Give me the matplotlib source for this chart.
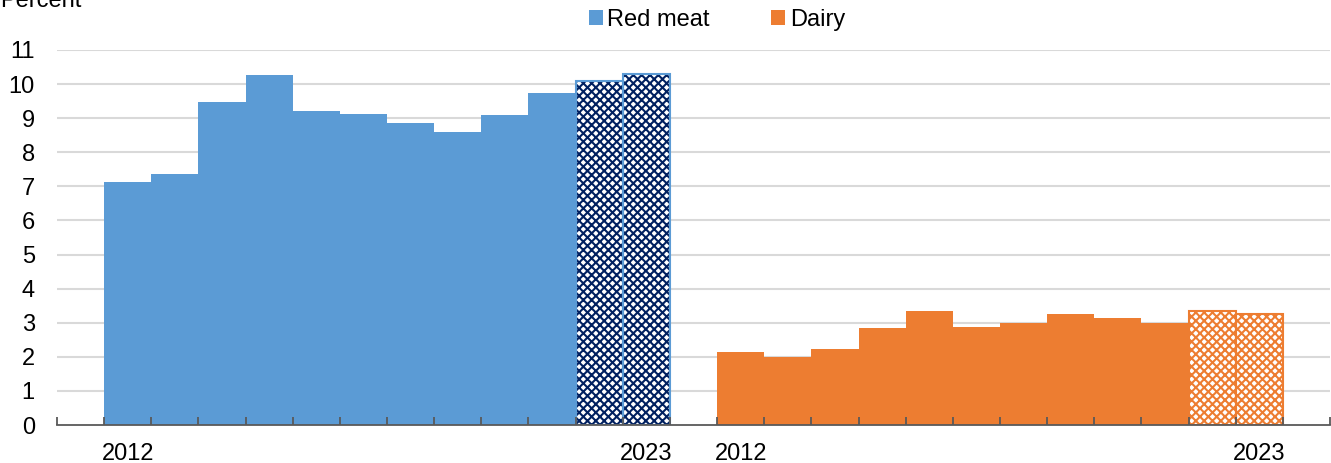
import matplotlib.pyplot as plt

plt.rcParams['font.family'] = ['Liberation Sans', 'DejaVu Sans']

# Anos e valores (percentual)
anos = list(range(2012, 2024))
carne_vermelha = [7.12, 7.37, 9.46, 10.27, 9.21, 9.11, 8.87, 8.60, 9.08, 9.73, 10.09, 10.29]
laticinios = [2.13, 1.99, 2.24, 2.86, 3.33, 2.87, 3.00, 3.25, 3.14, 2.98, 3.34, 3.25]
n_previsao = 2  # últimos anos são previsão (hachurados)

azul = '#5B9BD5'
azul_escuro = '#002060'
laranja = '#ED7D31'
fs = 17

fig = plt.figure(figsize=(13.31, 4.63), dpi=100)
ax = fig.add_axes([57 / 1331, 1 - 425 / 463, 1273 / 1331, 375 / 463])

n = len(anos)
x_carne = [1 + i for i in range(n)]
x_lat = [n + 2 + i for i in range(n)]


def desenha(xs, vals, cor, cor_hatch, rotulo):
    real = n - n_previsao
    ax.bar(xs[:real], vals[:real], width=1.0, color=cor, linewidth=0, label=rotulo, zorder=1)
    ax.bar(xs[real:], vals[real:], width=1.0, facecolor='white', edgecolor=cor_hatch,
           hatch='xxxx', linewidth=0, zorder=1)
    ax.bar(xs[real:], vals[real:], width=1.0, facecolor='none', edgecolor=cor,
           linewidth=1.5, zorder=1.5)


plt.rcParams['hatch.linewidth'] = 1.5
desenha(x_carne, carne_vermelha, azul, azul_escuro, 'Red meat')
desenha(x_lat, laticinios, laranja, laranja, 'Dairy')

total = 2 * n + 3
ax.set_xlim(-0.5, total - 0.5)
ax.set_ylim(0, 11)
ax.set_yticks(range(0, 12))
for v in range(1, 12):
    ax.axhline(v, color='#D9D9D9', linewidth=1.5, zorder=0)

ax.set_xticks([i - 0.5 for i in range(total + 1)])
ax.set_xticklabels([])
ax.set_xticks([x_carne[0], x_carne[-1], x_lat[0], x_lat[-1]],
              [str(anos[0]), str(anos[-1]), str(anos[0]), str(anos[-1])], minor=True)
ax.tick_params(axis='x', which='major', direction='in', length=6, width=1.3, color='#595959')
ax.tick_params(axis='x', which='minor', length=0, pad=13, labelsize=fs)
ax.tick_params(axis='y', length=0, labelsize=fs, pad=16)

for lado in ['top', 'right', 'left']:
    ax.spines[lado].set_visible(False)
ax.spines['bottom'].set_color('#595959')
ax.spines['bottom'].set_linewidth(1.3)

fig.text(0.0, 1 - 7 / 463, 'Percent', fontsize=fs, va='baseline')
fig.legend(loc='center', bbox_to_anchor=(717 / 1331, 1 - 20 / 463), ncol=2, frameon=False,
           fontsize=fs, handlelength=0.6, handleheight=0.6, handletextpad=0.2,
           columnspacing=2.6)

fig.savefig('out.png', dpi=100)
